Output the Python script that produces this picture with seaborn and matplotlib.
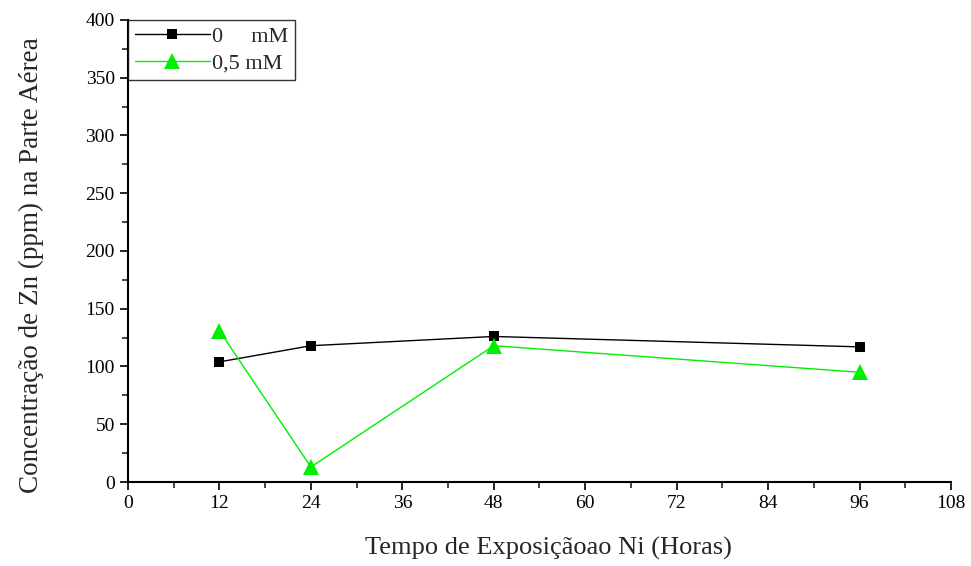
import matplotlib
matplotlib.use("Agg")
import matplotlib.pyplot as plt
import numpy as np
import pandas as pd
import seaborn as sns
from matplotlib.ticker import MultipleLocator

# data
horas = [12, 24, 48, 96]
zn_0mM = [104, 118, 126, 117]
zn_05mM = [131, 13, 118, 95]
series_names = ["0     mM", "0,5 mM"]

df = pd.DataFrame({
    "Horas": horas * 2,
    "Zn": zn_0mM + zn_05mM,
    "Tratamento": [series_names[0]] * len(horas) + [series_names[1]] * len(horas),
})

sns.set_style("ticks")
plt.rcParams["font.family"] = ["Liberation Serif", "DejaVu Serif"]

fig = plt.figure(figsize=(9.71, 5.66), dpi=100)
ax = fig.add_axes([0.1318, 0.1484, 0.8476, 0.8163])

sns.lineplot(data=df, x="Horas", y="Zn", hue="Tratamento", style="Tratamento",
             palette=["black", "#00ee00"], markers=["s", "^"], dashes=False,
             linewidth=1.0, markeredgewidth=0, ax=ax)
# squares a bit smaller than the triangles, as in the reference
for line, ms in zip(ax.lines[:2], [7.5, 11]):
    line.set_markersize(ms)

ax.set_xlim(0, 108)
ax.set_ylim(0, 400)
ax.xaxis.set_major_locator(MultipleLocator(12))
ax.xaxis.set_minor_locator(MultipleLocator(6))
ax.yaxis.set_major_locator(MultipleLocator(50))
ax.yaxis.set_minor_locator(MultipleLocator(25))
ax.tick_params(which="major", direction="out", length=6, width=1.2, labelsize=14, colors="black")
ax.tick_params(which="minor", direction="out", length=4, width=1.2)
for s in ["top", "right"]:
    ax.spines[s].set_visible(False)
for s in ["left", "bottom"]:
    ax.spines[s].set_linewidth(1.5)
    ax.spines[s].set_color("black")

ax.set_xlabel("Tempo de Exposiçãoao Ni (Horas)", fontsize=19, labelpad=18)
ax.set_ylabel("Concentração de Zn (ppm) na Parte Aérea", fontsize=19.5, labelpad=30)
ax.xaxis.label.set_x(0.511)
ax.yaxis.label.set_y(0.47)

leg = ax.legend(loc="upper left", bbox_to_anchor=(0.0, 1.0), fontsize=16, frameon=True,
                fancybox=False, edgecolor="black", handlelength=3.4, handletextpad=0.1,
                borderpad=0.3, labelspacing=0.25, borderaxespad=0.0)
leg.get_frame().set_linewidth(1.0)
for h, ms in zip(leg.legend_handles, [7.5, 11]):
    h.set_markersize(ms)

fig.savefig("out.png", dpi=100)
